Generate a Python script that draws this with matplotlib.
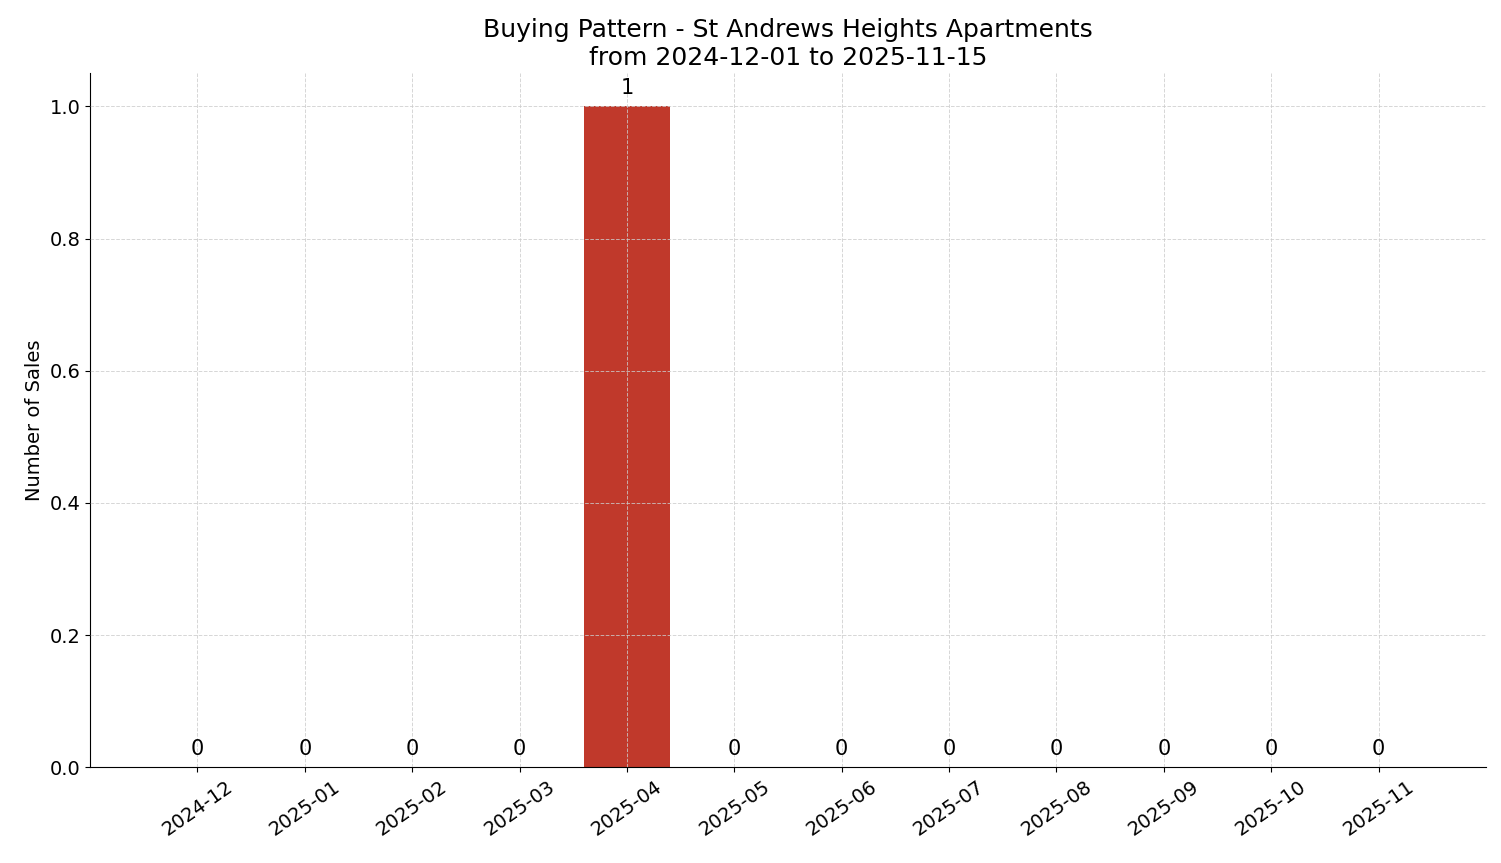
import matplotlib
matplotlib.use("Agg")
import matplotlib.pyplot as plt

months = ['2024-12', '2025-01', '2025-02', '2025-03', '2025-04', '2025-05',
          '2025-06', '2025-07', '2025-08', '2025-09', '2025-10', '2025-11']
sales = [0, 0, 0, 0, 1, 0, 0, 0, 0, 0, 0, 0]

fig, ax = plt.subplots(figsize=(15.01, 8.63), dpi=100)
x = list(range(len(months)))
bars = ax.bar(x, sales, width=0.8, color='#c0392b')
for xi, v in zip(x, sales):
    ax.text(xi, v + 0.013, str(v), ha='center', va='bottom', fontsize=15)

ax.set_xticks(x)
ax.set_xticklabels(months, rotation=35, fontsize=14)
ax.tick_params(axis='y', labelsize=14)
ax.set_xlim(-1.0, 12.0)
ax.set_ylim(0, 1.05)
ax.set_ylabel('Number of Sales', fontsize=14)
ax.set_title('Buying Pattern - St Andrews Heights Apartments\nfrom 2024-12-01 to 2025-11-15', fontsize=18)
ax.grid(True, linestyle='--', color='#cccccc', alpha=0.8, linewidth=0.7)
ax.set_axisbelow(False)
ax.spines['top'].set_visible(False)
ax.spines['right'].set_visible(False)

fig.subplots_adjust(left=0.06, right=0.99, top=0.915, bottom=0.111)
fig.savefig('out.png', dpi=100)
